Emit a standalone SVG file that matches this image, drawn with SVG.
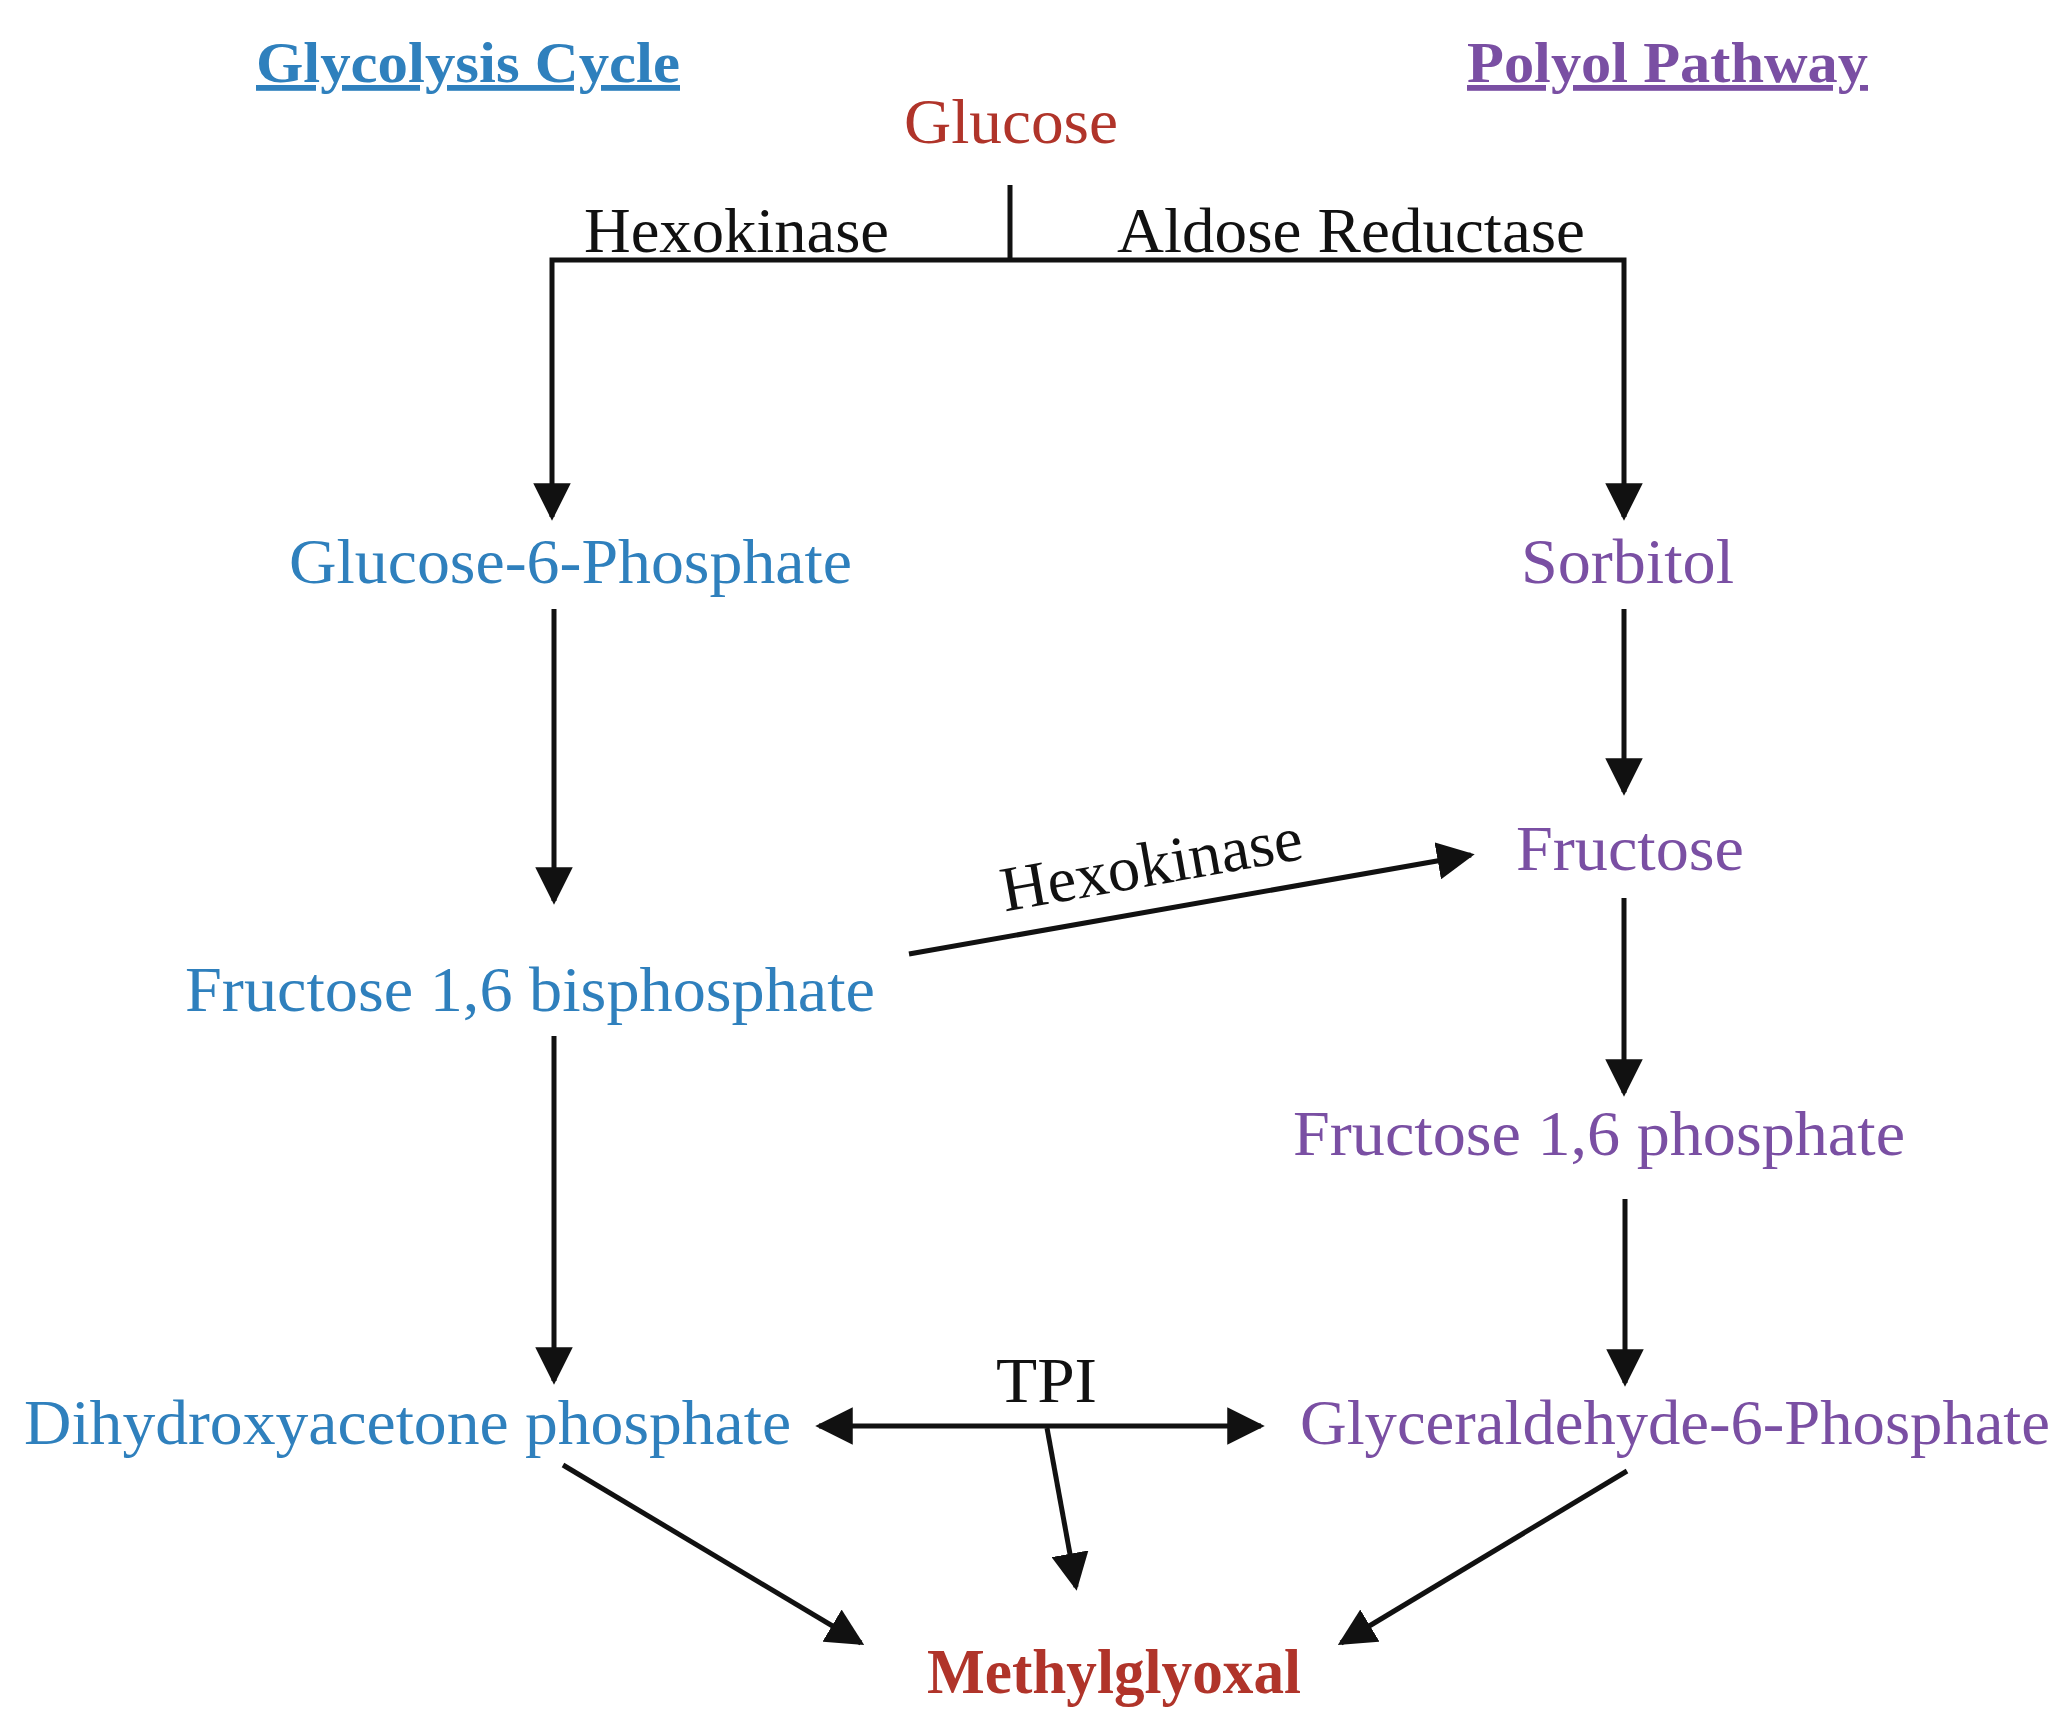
<svg xmlns="http://www.w3.org/2000/svg" width="2066" height="1728" viewBox="0 0 2066 1728">
<style>
text{font-family:"Liberation Serif","Times New Roman",serif;font-size:64px}
.b{fill:#2f80bd}.p{fill:#7a4fa3}.r{fill:#b0342a}.k{fill:#111}
.t{font-weight:bold;text-decoration:underline;font-size:58px}
line,path{stroke:#111;stroke-width:5;fill:none}
</style>
<defs><marker id="a" viewBox="0 0 10 10" refX="9" refY="5" markerWidth="7.5" markerHeight="7.5" markerUnits="strokeWidth" orient="auto-start-reverse"><path d="M0,0L10,5L0,10z" style="fill:#111;stroke:none"/></marker></defs>
<g id="title-glycolysis"><text class="b t" x="256" y="82" textLength="424" lengthAdjust="spacingAndGlyphs">Glycolysis Cycle</text></g>
<g id="title-polyol"><text class="p t" x="1467" y="82" textLength="401" lengthAdjust="spacingAndGlyphs">Polyol Pathway</text></g>
<g id="glucose"><text class="r" x="904" y="143" textLength="214" lengthAdjust="spacingAndGlyphs">Glucose</text></g>
<g id="g6p"><text class="b" x="289" y="583" textLength="563" lengthAdjust="spacingAndGlyphs">Glucose-6-Phosphate</text></g>
<g id="sorbitol"><text class="p" x="1521" y="583" textLength="213" lengthAdjust="spacingAndGlyphs">Sorbitol</text></g>
<g id="fructose"><text class="p" x="1516" y="870" textLength="228" lengthAdjust="spacingAndGlyphs">Fructose</text></g>
<g id="f16bp"><text class="b" x="185" y="1011" textLength="690" lengthAdjust="spacingAndGlyphs">Fructose 1,6 bisphosphate</text></g>
<g id="f16p"><text class="p" x="1293" y="1155" textLength="612" lengthAdjust="spacingAndGlyphs">Fructose 1,6 phosphate</text></g>
<g id="dhap"><text class="b" x="24" y="1444" textLength="767" lengthAdjust="spacingAndGlyphs">Dihydroxyacetone phosphate</text></g>
<g id="g6p2"><text class="p" x="1300" y="1444" textLength="750" lengthAdjust="spacingAndGlyphs">Glyceraldehyde-6-Phosphate</text></g>
<g id="methylglyoxal"><text class="r" x="927" y="1693" font-weight="bold" textLength="374" lengthAdjust="spacingAndGlyphs">Methylglyoxal</text></g>
<g id="connectors">
<line x1="1010" y1="185" x2="1010" y2="260"/>
<path d="M552,517V260H1624V517" marker-start="url(#a)" marker-end="url(#a)"/>
<line x1="554" y1="609" x2="554" y2="901" marker-end="url(#a)"/>
<line x1="1624" y1="609" x2="1624" y2="792" marker-end="url(#a)"/>
<line x1="909" y1="954" x2="1471" y2="855" marker-end="url(#a)"/>
<line x1="1624" y1="898" x2="1624" y2="1093" marker-end="url(#a)"/>
<line x1="554" y1="1036" x2="554" y2="1381" marker-end="url(#a)"/>
<line x1="1625" y1="1199" x2="1625" y2="1383" marker-end="url(#a)"/>
<line x1="819" y1="1426" x2="1261" y2="1426" marker-start="url(#a)" marker-end="url(#a)"/>
<line x1="1047" y1="1428" x2="1076" y2="1587" marker-end="url(#a)"/>
<line x1="563" y1="1465" x2="861" y2="1643" marker-end="url(#a)"/>
<line x1="1627" y1="1471" x2="1341" y2="1643" marker-end="url(#a)"/>
<text class="k" x="584" y="252" textLength="305" lengthAdjust="spacingAndGlyphs">Hexokinase</text>
<text class="k" x="1117" y="252" textLength="468" lengthAdjust="spacingAndGlyphs">Aldose Reductase</text>
<text class="k" x="1155" y="885" text-anchor="middle" textLength="305" lengthAdjust="spacingAndGlyphs" transform="rotate(-10 1155 885)">Hexokinase</text>
<text class="k" x="996" y="1402" textLength="101" lengthAdjust="spacingAndGlyphs">TPI</text>
</g>
</svg>
